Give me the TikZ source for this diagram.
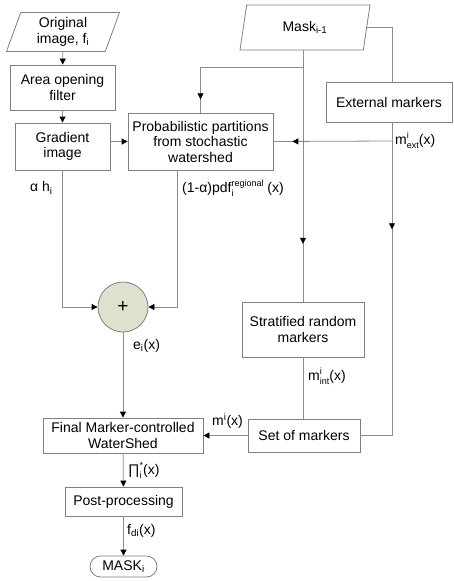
\documentclass[tikz,border=0pt]{standalone}
\usepackage{fontspec}
\setmainfont{Liberation Sans}
\usetikzlibrary{arrows.meta,shapes.geometric,decorations.markings}

\definecolor{linegray}{HTML}{8C8C8C}
\definecolor{boxgray}{HTML}{808080}
\definecolor{sumfill}{HTML}{DDE2CC}

% superscript and subscript stacked at the same place
\newcommand{\supsub}[2]{\mbox{%
  \sbox0{\raisebox{6.5pt}{\fontsize{9}{9}\selectfont #1}}%
  \sbox2{\raisebox{-3.5pt}{\fontsize{9}{9}\selectfont #2}}%
  \ifdim\wd0>\wd2 \rlap{\usebox2}\usebox0\else\rlap{\usebox0}\usebox2\fi}}

\begin{document}
\begin{tikzpicture}[x=1pt,y=-1pt,
  every node/.style={font=\fontsize{14}{15.5}\selectfont},
  line/.style={draw=linegray,line width=0.8pt},
  arr/.style={line,-{Triangle[length=6pt,width=6pt,color=black]}},
  midarr/.style={line,postaction={decorate},
    decoration={markings,mark=at position #1 with {\arrow{Triangle[length=6pt,width=6pt,color=black]}}}},
  box/.style={draw=boxgray,line width=0.8pt,align=center,inner sep=1pt},
  data/.style={trapezium,trapezium left angle=65,trapezium right angle=115,
    trapezium stretches body,draw=boxgray,line width=0.8pt,align=center,inner sep=1pt},
  lbl/.style={anchor=west,inner sep=0pt}]

\useasboundingbox (0,0) rectangle (454,581);

% ------------------------------------------------------------------
% Left column: input image and pre-processing
% ------------------------------------------------------------------
\node[data,minimum width=113pt,minimum height=39pt] (orig) at (63,32) {Original\\image, f\textsubscript{i}};
\node[box,minimum width=105pt,minimum height=45pt] (area) at (62.5,87.5) {Area opening\\filter};
\node[box,minimum width=95pt,minimum height=47pt] (grad) at (62.5,146.5) {Gradient\\image};

% ------------------------------------------------------------------
% Stochastic watershed, previous mask and markers
% ------------------------------------------------------------------
\node[box,minimum width=145pt,minimum height=57pt] (prob) at (200.5,141.5) {Probabilistic partitions\\from stochastic\\watershed};
\node[data,minimum width=130pt,minimum height=45pt] (mask) at (305,27.5) {Mask\textsubscript{i-1}};
\node[box,minimum width=126pt,minimum height=40pt] (ext) at (389,102) {External markers};
\node[box,minimum width=122pt,minimum height=55pt] (strat) at (303,329.5) {Stratified random\\markers};
\node[box,minimum width=112pt,minimum height=33pt] (set) at (304,435.5) {Set of markers};

% ------------------------------------------------------------------
% Sum, final watershed and output
% ------------------------------------------------------------------
\node[circle,draw=boxgray,line width=0.8pt,fill=sumfill,minimum size=50pt,inner sep=0pt,
  font=\fontsize{19}{19}\selectfont] (sum) at (123,307) {+};
\node[box,minimum width=160pt,minimum height=35pt] (final) at (123,435.5) {Final Marker-controlled\\WaterShed};
\node[box,minimum width=117pt,minimum height=29pt] (post) at (123.5,501.5) {Post-processing};
\node[box,rounded corners=10.5pt,minimum width=67pt,minimum height=21pt] (out) at (123.5,566.5) {MASK\textsubscript{i}};

\coordinate (mjoin) at (303,67);
\coordinate (ejoin) at (392,141);

% ------------------------------------------------------------------
% Connections
% ------------------------------------------------------------------
\draw[arr] (orig) -- (area);
\draw[arr] (area) -- (grad);
\draw[arr] (grad.east |- prob.west) -- (prob.west);

\draw[midarr=0.77] (strat.north |- mask.south) -- (strat.north);
\draw[midarr=0.91] (mjoin) -| (prob.north);
\draw[line] (mask.east) -| (ejoin |- ext.north);
\draw[midarr=0.31] (ejoin |- ext.south) |- (set.east);
\draw[midarr=0.84] (ejoin) -- (prob.east);

\draw[arr] (grad.south) |- (sum.west);
\draw[arr] ([xshift=-23.5pt]prob.south) |- (sum.east);
\draw[arr] (sum) -- (final);
\draw[line] (strat.south) -- (strat.south |- set.north);
\draw[arr] (set) -- (final);
\draw[arr] (final) -- (post);
\draw[arr] (post) -- (out);

% ------------------------------------------------------------------
% Signal labels
% ------------------------------------------------------------------
\node[lbl] (lalpha) at (30,188) {α h\textsubscript{i}};
\node[lbl] (lpdf) at (182,188) {(1-α)pdf\supsub{regional}{i} (x)};
\node[lbl] (lext) at (395,140) {m\supsub{i}{ext}(x)};
\node[lbl] (le) at (133,346) {e\textsubscript{i}(x)};
\node[lbl] (lint) at (308,376) {m\supsub{i}{int}(x)};
\node[lbl] (lm) at (212,421) {m\textsuperscript{i}(x)};
\node[lbl] (lpi) at (128,470) {∏\supsub{*}{i}(x)};
\node[lbl] (lf) at (127,531) {f\textsubscript{di}(x)};

\end{tikzpicture}
\end{document}
